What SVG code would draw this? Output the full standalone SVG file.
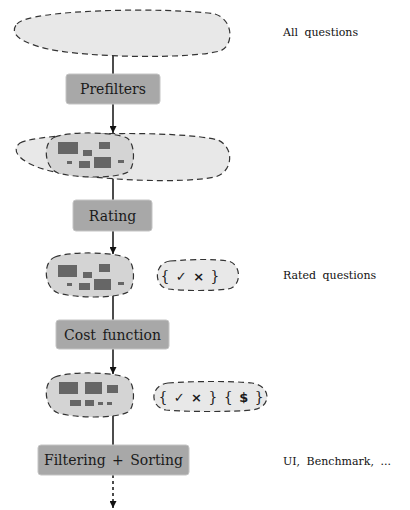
<svg xmlns="http://www.w3.org/2000/svg" width="410" height="510" viewBox="0 0 410 510">
<defs>
<style>
.blob{fill:#e8e8e8;stroke:#333;stroke-width:1.2;stroke-dasharray:6 4}
.inner{fill:#d4d4d4;stroke:#333;stroke-width:1.2;stroke-dasharray:6 4}
.q{fill:#666}
.box{fill:#a8a8a8;stroke:#c4c4c4;stroke-width:1}
.lbl{font-family:"DejaVu Serif","Liberation Serif",serif;font-size:14px;fill:#1a1a1a;text-anchor:middle;word-spacing:2px}
.side{font-family:"DejaVu Serif","Liberation Serif",serif;font-size:11px;fill:#111;word-spacing:3px}
.set{font-family:"DejaVu Serif",serif;font-size:14px;fill:#1a1a1a;text-anchor:middle;word-spacing:2px}
.sym{font-family:"DejaVu Sans",sans-serif;font-weight:bold;font-size:13px}
.ln{stroke:#111;stroke-width:1.5;fill:none}
</style>
<marker id="ah" viewBox="0 0 10 10" refX="10" refY="5" markerWidth="7" markerHeight="7" markerUnits="userSpaceOnUse" orient="auto">
<path d="M0,0 L10,5 L0,10 Z" fill="#111"/>
</marker>
</defs>

<g id="connectors">
<line class="ln" x1="113" y1="55" x2="113" y2="74"/>
<line class="ln" x1="113" y1="104" x2="113" y2="133" marker-end="url(#ah)"/>
<line class="ln" x1="113" y1="178" x2="113" y2="200"/>
<line class="ln" x1="113" y1="231" x2="113" y2="254" marker-end="url(#ah)"/>
<line class="ln" x1="113" y1="293" x2="113" y2="320"/>
<line class="ln" x1="113" y1="349" x2="113" y2="374" marker-end="url(#ah)"/>
<line class="ln" x1="113" y1="413" x2="113" y2="445"/>
<line class="ln" x1="113" y1="475" x2="113" y2="508" stroke-dasharray="3 3" marker-end="url(#ah)"/>
</g>

<g id="all-questions">
<path class="blob" d="M17,24 C28,9 170,7 215,14 C234,20 234,46 220,51 C190,59 90,58 48,49 C22,43 8,34 17,24 Z"/>
<text class="side" x="283" y="36">All questions</text>
</g>

<g id="prefilters">
<rect class="box" x="66" y="74" width="94" height="30" rx="3"/>
<text class="lbl" x="113" y="94">Prefilters</text>
</g>

<g id="prefiltered">
<path class="blob" d="M20,143 C40,132 180,130 218,140 C235,148 233,172 215,177 C180,184 100,180 55,172 C25,166 8,152 20,143 Z"/>
<path class="inner" d="M55,137 C70,131 115,132 127,138 C136,144 135,168 128,172 C115,179 75,178 58,173 C44,168 42,142 55,137 Z"/>
<rect class="q" x="58" y="142" width="20" height="12"/>
<rect class="q" x="83" y="150" width="9" height="6"/>
<rect class="q" x="99" y="142" width="11" height="7"/>
<rect class="q" x="67" y="161" width="5" height="3"/>
<rect class="q" x="79" y="161" width="11" height="7"/>
<rect class="q" x="94" y="157" width="17" height="11"/>
<rect class="q" x="118" y="160" width="6" height="3"/>
</g>

<g id="rating">
<rect class="box" x="73" y="200" width="79" height="31" rx="3"/>
<text class="lbl" x="112.5" y="220.5">Rating</text>
</g>

<g id="rated">
<path class="inner" d="M55,257 C70,251 115,252 127,258 C136,264 135,288 128,292 C115,299 75,298 58,293 C44,288 42,262 55,257 Z"/>
<rect class="q" x="58" y="265" width="19" height="12"/>
<rect class="q" x="83" y="272" width="9" height="6"/>
<rect class="q" x="99" y="264" width="11" height="8"/>
<rect class="q" x="67" y="283" width="5" height="3"/>
<rect class="q" x="79" y="283" width="11" height="7"/>
<rect class="q" x="94" y="279" width="17" height="11"/>
<rect class="q" x="118" y="282" width="6" height="3"/>
</g>

<g id="rating-set">
<path class="blob" d="M170,261 C195,259 215,259 228,261 C242,264 242,287 228,289 C210,291 185,291 168,289 C153,286 154,263 170,261 Z"/>
<text class="set" x="190" y="281">{ <tspan class="sym">✓</tspan> <tspan class="sym">×</tspan> }</text>
<text class="side" x="283" y="279">Rated questions</text>
</g>

<g id="cost-function">
<rect class="box" x="56" y="320" width="113" height="29" rx="3"/>
<text class="lbl" x="112.5" y="339.5">Cost function</text>
</g>

<g id="costed">
<path class="inner" d="M55,377 C70,371 115,372 127,378 C136,384 135,408 128,412 C115,419 75,418 58,413 C44,408 42,382 55,377 Z"/>
<rect class="q" x="59" y="382" width="19" height="12"/>
<rect class="q" x="85" y="382" width="17" height="12"/>
<rect class="q" x="107" y="385" width="11" height="8"/>
<rect class="q" x="70" y="400" width="11" height="6"/>
<rect class="q" x="85" y="400" width="9" height="6"/>
<rect class="q" x="98" y="402" width="5" height="3"/>
<rect class="q" x="107" y="402" width="5" height="3"/>
</g>

<g id="cost-set">
<path class="blob" d="M168,383 C195,381 235,381 252,383 C272,386 272,408 252,410 C230,412 190,412 166,410 C149,407 150,385 168,383 Z"/>
<text class="set" x="211" y="402">{ <tspan class="sym">✓</tspan> <tspan class="sym">×</tspan> } { <tspan class="sym">$</tspan> }</text>
</g>

<g id="filtering-sorting">
<rect class="box" x="38" y="445" width="151" height="30" rx="3"/>
<text class="lbl" x="113.5" y="465">Filtering + Sorting</text>
<text class="side" x="283" y="465">UI, Benchmark, ...</text>
</g>
</svg>
